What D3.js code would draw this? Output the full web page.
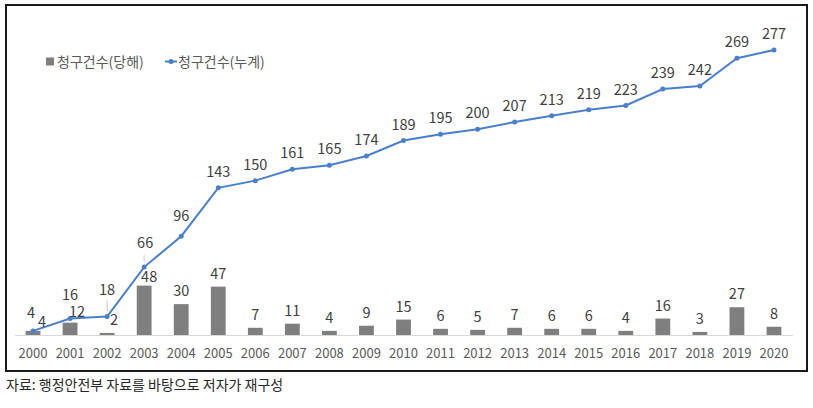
<!DOCTYPE html>
<html>
<head>
<meta charset="utf-8">
<script src="https://cdn.jsdelivr.net/npm/d3@7"></script>
<style>
  body { margin: 0; background: #fff; }
  svg { display: block; font-family: "Noto Sans CJK KR", "Noto Sans", sans-serif; }
</style>
</head>
<body>
<div id="chart"></div>
<script>
// data
const years = ['2000', '2001', '2002', '2003', '2004', '2005', '2006', '2007', '2008', '2009', '2010',
  '2011', '2012', '2013', '2014', '2015', '2016', '2017', '2018', '2019', '2020']
const annual = [4, 12, 2, 48, 30, 47, 7, 11, 4, 9, 15, 6, 5, 7, 6, 6, 4, 16, 3, 27, 8]
const cumulative = [4, 16, 18, 66, 96, 143, 150, 161, 165, 174, 189, 195, 200, 207, 213, 219, 223, 239, 242, 269, 277]
const seriesNames = ['청구건수(당해)', '청구건수(누계)']
const source = '자료: 행정안전부 자료를 바탕으로 저자가 재구성'

// hand-moved labels (as in the original chart)
const lineLabelShift = { '2000': [-2, -18], '2001': [0, -24], '2002': [0, -27], '2003': [1, -24], '2004': [0, -20] }
const barLabelShift = { '2000': [9, -9], '2001': [7, -11], '2002': [7, -13], '2003': [5, -9] }
const leaders = { '2002': [-16, -5], '2003': [-12, -5] }

const width = 813, height = 408
const barColor = '#7f7f7f', lineColor = '#4a7fcb', textColor = '#404040'

const svg = d3.select('#chart').append('svg')
  .attr('width', width)
  .attr('height', height)

// frame
svg.append('rect')
  .attr('x', 6).attr('y', 5)
  .attr('width', 801).attr('height', 366)
  .attr('fill', 'none')
  .attr('stroke', '#1a1a1a')
  .attr('stroke-width', 2)

const x = d3.scaleBand().domain(years).range([14.5, 792.5]).paddingInner(0.6).paddingOuter(0.3)
const y = d3.scaleLinear().domain([0, 300]).range([335, 26.3])

// x axis
const xAxis = d3.axisBottom(x).tickSize(0).tickPadding(14)
const xAxisG = svg.append('g')
  .attr('transform', `translate(0, ${y(0)})`)
  .call(xAxis)
xAxisG.select('.domain').attr('stroke', '#d9d9d9')
xAxisG.selectAll('text')
  .attr('font-size', 13)
  .attr('fill', '#595959')
  .attr('font-family', '"Noto Sans CJK KR", sans-serif')

// bars
svg.append('g').selectAll('rect')
  .data(years)
  .join('rect')
  .attr('x', d => x(d))
  .attr('y', (d, i) => y(annual[i]))
  .attr('width', x.bandwidth())
  .attr('height', (d, i) => y(0) - y(annual[i]))
  .attr('fill', barColor)

const cx = d => x(d) + x.bandwidth() / 2

// line
const line = d3.line()
  .x((d, i) => cx(years[i]))
  .y(d => y(d))
svg.append('path')
  .datum(cumulative)
  .attr('d', line)
  .attr('fill', 'none')
  .attr('stroke', lineColor)
  .attr('stroke-width', 2)

svg.append('g').selectAll('circle')
  .data(cumulative)
  .join('circle')
  .attr('cx', (d, i) => cx(years[i]))
  .attr('cy', d => y(d))
  .attr('r', 2.5)
  .attr('fill', lineColor)

// leader lines
svg.append('g').selectAll('line')
  .data(Object.keys(leaders))
  .join('line')
  .attr('x1', d => cx(d)).attr('x2', d => cx(d))
  .attr('y1', d => y(cumulative[years.indexOf(d)]) + leaders[d][0])
  .attr('y2', d => y(cumulative[years.indexOf(d)]) + leaders[d][1])
  .attr('stroke', '#c8c8c8')
  .attr('stroke-width', 1)

// bar labels
svg.append('g').selectAll('text')
  .data(years)
  .join('text')
  .attr('x', d => cx(d) + (barLabelShift[d] ? barLabelShift[d][0] : 0))
  .attr('y', (d, i) => y(annual[i]) + (barLabelShift[d] ? barLabelShift[d][1] : -13))
  .attr('dy', '0.35em')
  .attr('text-anchor', 'middle')
  .attr('font-size', 14.5)
  .attr('fill', textColor)
  .text((d, i) => annual[i])

// line labels
svg.append('g').selectAll('text')
  .data(years)
  .join('text')
  .attr('x', d => cx(d) + (lineLabelShift[d] ? lineLabelShift[d][0] : 0))
  .attr('y', (d, i) => y(cumulative[i]) + (lineLabelShift[d] ? lineLabelShift[d][1] : -16))
  .attr('dy', '0.35em')
  .attr('text-anchor', 'middle')
  .attr('font-size', 14.5)
  .attr('fill', textColor)
  .text((d, i) => cumulative[i])

// legend
const legend = svg.append('g').attr('font-size', 14).attr('fill', '#595959')
legend.append('rect')
  .attr('x', 46).attr('y', 57.5).attr('width', 8).attr('height', 8)
  .attr('fill', barColor)
legend.append('text')
  .attr('x', 57).attr('y', 62).attr('dy', '0.35em')
  .text(seriesNames[0])
legend.append('line')
  .attr('x1', 165).attr('x2', 177).attr('y1', 61.5).attr('y2', 61.5)
  .attr('stroke', lineColor).attr('stroke-width', 2)
legend.append('circle')
  .attr('cx', 171).attr('cy', 61.5).attr('r', 2.5)
  .attr('fill', lineColor)
legend.append('text')
  .attr('x', 178).attr('y', 62).attr('dy', '0.35em')
  .text(seriesNames[1])

// source note
svg.append('text')
  .attr('x', 6).attr('y', 385).attr('dy', '0.35em')
  .attr('font-size', 14)
  .attr('fill', '#262626')
  .text(source)
</script>
</body>
</html>
